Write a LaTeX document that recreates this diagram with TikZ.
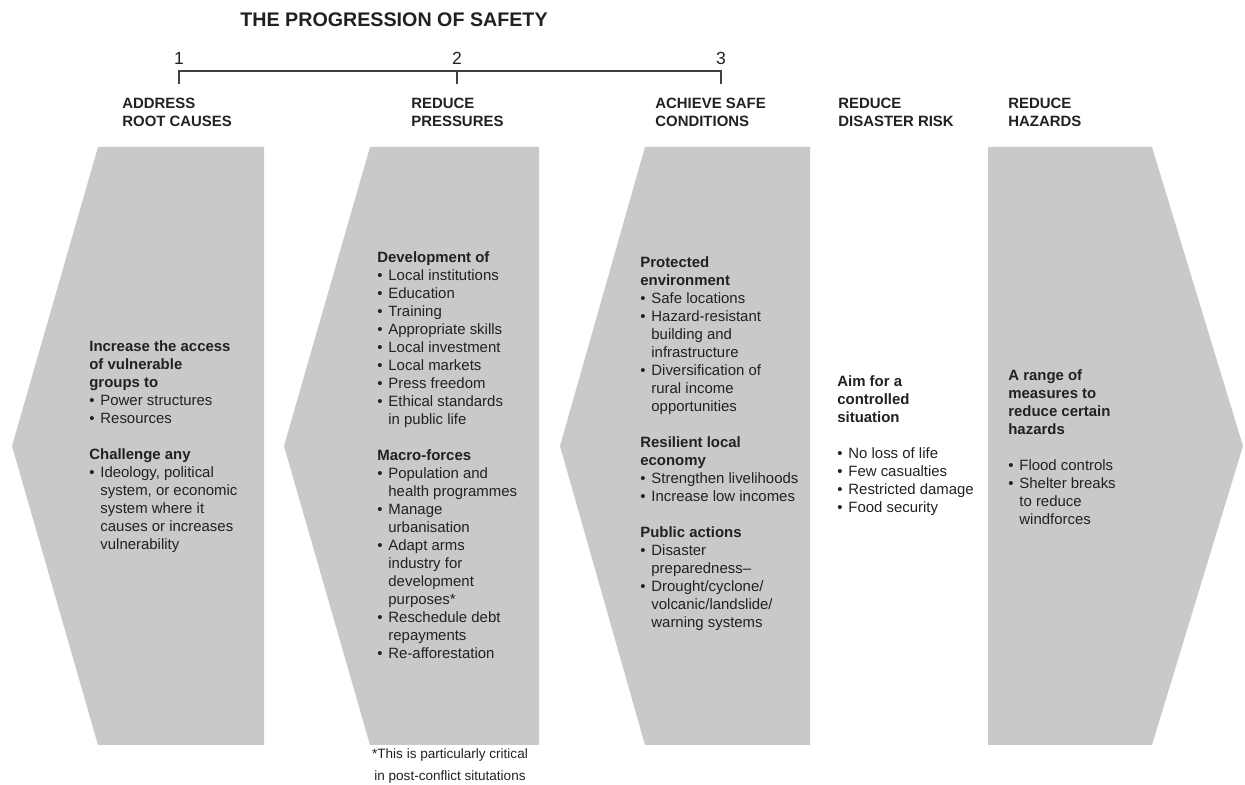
\documentclass[tikz,border=0pt]{standalone}
\usepackage{fontspec}
\setmainfont{Liberation Sans}
\usepackage{xcolor}

\newcommand{\bitem}{\makebox[6.3pt][l]{\textbullet}}
\newcommand{\bcont}{\hspace*{6.3pt}}

\begin{document}
\begin{tikzpicture}[
  txt/.style={anchor=north west,inner sep=0pt,align=left,text=ctxt,font=\fontsize{8.5}{10.24}\selectfont},
  head/.style={txt,font=\fontsize{8.5}{10.24}\selectfont\bfseries},
  num/.style={inner sep=0pt,text=ctxt,font=\fontsize{10}{12}\selectfont},
  band/.style={fill=cband,draw=none},
  bracket/.style={draw=cline,line width=0.6pt}
]
\definecolor{cband}{rgb}{0.79,0.79,0.79}
\definecolor{ctxt}{rgb}{0.13,0.13,0.13}
\definecolor{cline}{rgb}{0.25,0.25,0.25}
%
\useasboundingbox (0,0) rectangle (24.9,15.7);
%
\fill[band] (1.96,12.76) -- (5.28,12.76) -- (5.28,0.80) -- (1.96,0.80) -- (0.24,6.78) -- cycle;
\fill[band] (7.40,12.76) -- (10.78,12.76) -- (10.78,0.80) -- (7.40,0.80) -- (5.68,6.78) -- cycle;
\fill[band] (12.90,12.76) -- (16.20,12.76) -- (16.20,0.80) -- (12.90,0.80) -- (11.20,6.78) -- cycle;
\fill[band] (19.76,12.76) -- (23.04,12.76) -- (24.86,6.78) -- (23.04,0.80) -- (19.76,0.80) -- cycle;
%
\node[inner sep=0pt,text=ctxt,font=\fontsize{11.2}{13}\selectfont\bfseries] (title) at (7.88,15.30) {THE PROGRESSION OF SAFETY};
\node[num] (n1) at (3.58,14.54) {1};
\node[num] (n2) at (9.14,14.54) {2};
\node[num] (n3) at (14.42,14.54) {3};
\coordinate (j1) at (3.58,14.28);
\coordinate (j2) at (9.14,14.28);
\coordinate (j3) at (14.42,14.28);
\coordinate (k1) at (3.58,14.02);
\coordinate (k2) at (9.14,14.02);
\coordinate (k3) at (14.42,14.02);
\draw[bracket] (k1) -- (j1) -- (j3) -- (k3);
\draw[bracket] (j2) -- (k2);
%
\node[head] (h1) at (2.44,13.74) {ADDRESS\\ROOT CAUSES};
\node[head] (h2) at (8.22,13.74) {REDUCE\\PRESSURES};
\node[head] (h3) at (13.10,13.74) {ACHIEVE SAFE\\CONDITIONS};
\node[head] (h4) at (16.76,13.74) {REDUCE\\DISASTER RISK};
\node[head] (h5) at (20.16,13.74) {REDUCE\\HAZARDS};
%
\node[txt] (root) at (1.78,8.90) {\textbf{Increase the access}\\\textbf{of vulnerable}\\\textbf{groups to}\\\bitem Power structures\\\bitem Resources\\[10.24pt]\textbf{Challenge any}\\\bitem Ideology, political\\\bcont system, or economic\\\bcont system where it\\\bcont causes or increases\\\bcont vulnerability};
\node[txt] (press) at (7.54,10.68) {\textbf{Development of}\\\bitem Local institutions\\\bitem Education\\\bitem Training\\\bitem Appropriate skills\\\bitem Local investment\\\bitem Local markets\\\bitem Press freedom\\\bitem Ethical standards\\\bcont in public life\\[10.24pt]\textbf{Macro-forces}\\\bitem Population and\\\bcont health programmes\\\bitem Manage\\\bcont urbanisation\\\bitem Adapt arms\\\bcont industry for\\\bcont development\\\bcont purposes*\\\bitem Reschedule debt\\\bcont repayments\\\bitem Re-afforestation};
\node[txt] (safe) at (12.80,10.58) {\textbf{Protected}\\\textbf{environment}\\\bitem Safe locations\\\bitem Hazard-resistant\\\bcont building and\\\bcont infrastructure\\\bitem Diversification of\\\bcont rural income\\\bcont opportunities\\[10.24pt]\textbf{Resilient local}\\\textbf{economy}\\\bitem Strengthen livelihoods\\\bitem Increase low incomes\\[10.24pt]\textbf{Public actions}\\\bitem Disaster\\\bcont preparedness–\\\bitem Drought/cyclone/\\\bcont volcanic/landslide/\\\bcont warning systems};
\node[txt] (risk) at (16.74,8.20) {\textbf{Aim for a}\\\textbf{controlled}\\\textbf{situation}\\[10.24pt]\bitem No loss of life\\\bitem Few casualties\\\bitem Restricted damage\\\bitem Food security};
\node[txt] (hazard) at (20.16,8.32) {\textbf{A range of}\\\textbf{measures to}\\\textbf{reduce certain}\\\textbf{hazards}\\[10.24pt]\bitem Flood controls\\\bitem Shelter breaks\\\bcont to reduce\\\bcont windforces};
%
\node[anchor=north,inner sep=0pt,align=center,text=ctxt,font=\fontsize{7.7}{12.5}\selectfont] (note) at (9.00,0.74) {*This is particularly critical\\in post-conflict situtations};
%
\end{tikzpicture}
\end{document}
